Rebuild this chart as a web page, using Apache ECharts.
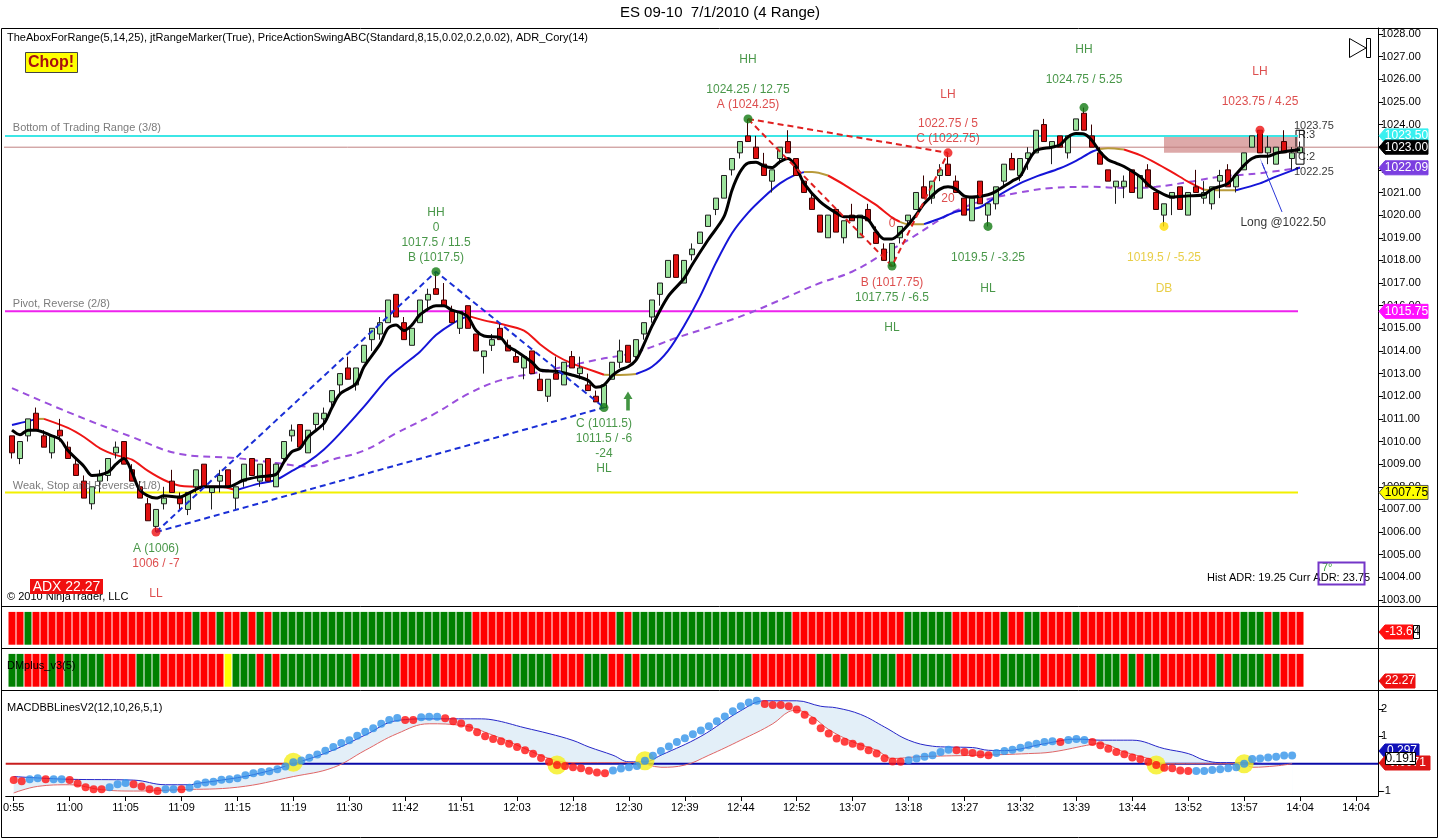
<!DOCTYPE html>
<html><head><meta charset="utf-8">
<script src="https://cdn.jsdelivr.net/npm/echarts@6/dist/echarts.min.js"></script>
<style>html,body{margin:0;padding:0;background:#fff}#c{width:1440px;height:840px}</style>
</head><body><div id="c"></div>
<script>
const FONT = '"Liberation Sans", Arial, sans-serif';

// ---------- DATA ----------
const timeLabels = ['0:55','11:00','11:05','11:09','11:15','11:19','11:30','11:42','11:51','12:03','12:18','12:30','12:39','12:44','12:52','13:07','13:18','13:27','13:32','13:39','13:44','13:52','13:57','14:04','14:04'];
const priceTicks = [1003,1004,1005,1006,1007,1008,1009,1010,1011,1012,1013,1014,1015,1016,1017,1018,1019,1020,1021,1022,1023,1024,1025,1026,1027,1028];
const macdTicks = [-1,1,2];

// candles: [open, close, low, high], one per range bar
const candles = [
[1010.25,1009.5,1009.25,1010.25],[1009.25,1010.0,1009.0,1010.0],[1010.25,1011.0,1010.0,1011.0],[1011.25,1010.5,1010.5,1011.5],
[1010.25,1009.75,1009.75,1010.5],[1009.5,1010.25,1009.25,1010.25],[1010.5,1010.25,1010.0,1011.0],[1009.75,1009.25,1009.25,1010.0],
[1009.0,1008.5,1008.5,1009.25],[1008.25,1007.5,1007.5,1008.5],[1007.25,1008.0,1007.0,1008.0],[1008.25,1008.5,1007.75,1008.75],
[1008.5,1009.25,1008.25,1009.25],[1009.5,1009.75,1009.25,1010.0],[1010.0,1009.0,1009.0,1010.0],[1008.75,1008.25,1008.25,1009.0],
[1008.0,1007.5,1007.5,1008.25],[1007.25,1006.5,1006.5,1007.5],[1006.25,1007.0,1006.0,1007.0],[1007.25,1007.5,1007.0,1008.0],
[1008.25,1007.75,1007.75,1008.75],[1007.5,1007.25,1007.0,1007.75],[1007.0,1007.75,1006.75,1007.75],[1008.0,1008.75,1007.75,1008.75],
[1009.0,1008.0,1008.0,1009.0],[1007.75,1008.0,1007.0,1008.0],[1008.25,1008.5,1007.75,1008.75],[1008.75,1008.0,1008.0,1008.75],
[1007.5,1008.0,1007.0,1008.0],[1008.25,1009.0,1008.0,1009.0],[1009.25,1008.5,1008.5,1009.25],[1008.25,1009.0,1008.0,1009.0],
[1009.25,1008.25,1008.25,1009.25],[1008.0,1009.0,1008.0,1009.0],[1009.25,1010.0,1009.0,1010.0],[1010.25,1010.5,1010.0,1010.75],
[1010.75,1009.75,1009.75,1010.75],[1009.5,1010.5,1009.5,1010.5],[1010.75,1011.25,1010.5,1011.25],[1011.0,1011.25,1010.5,1011.5],
[1011.75,1012.25,1011.5,1012.25],[1012.5,1013.0,1012.0,1013.0],[1013.25,1012.75,1012.75,1013.75],[1012.5,1013.25,1012.25,1013.25],
[1013.5,1014.25,1013.5,1014.25],[1014.5,1015.0,1014.0,1015.0],[1014.75,1015.25,1014.5,1015.5],[1015.25,1016.25,1015.25,1016.25],
[1016.5,1015.5,1015.5,1016.5],[1015.25,1014.5,1014.5,1015.5],[1014.25,1015.0,1014.25,1015.0],[1015.25,1016.25,1015.25,1016.25],
[1016.25,1016.5,1015.75,1016.75],[1016.75,1016.5,1016.5,1017.5],[1016.25,1016.0,1016.0,1017.0],[1015.75,1015.25,1015.25,1016.0],
[1015.0,1015.75,1014.75,1015.75],[1016.0,1015.0,1015.0,1016.0],[1014.75,1014.0,1014.0,1014.75],[1013.75,1014.0,1013.0,1014.0],
[1014.25,1014.5,1014.0,1014.75],[1015.0,1014.5,1014.5,1015.25],[1014.25,1014.0,1014.0,1014.5],[1013.75,1013.5,1013.5,1014.0],
[1013.25,1013.75,1012.75,1013.75],[1014.0,1013.0,1013.0,1014.0],[1012.75,1012.25,1012.25,1013.0],[1012.0,1012.75,1011.75,1012.75],
[1013.0,1012.75,1012.75,1013.75],[1012.5,1013.5,1012.5,1013.5],[1013.75,1013.25,1013.25,1014.0],[1013.0,1013.25,1012.75,1013.75],
[1012.5,1012.25,1012.25,1013.0],[1012.0,1011.75,1011.75,1012.25],[1011.5,1012.5,1011.5,1012.5],[1012.75,1013.5,1012.75,1013.5],
[1013.5,1014.0,1013.25,1014.5],[1014.25,1013.5,1013.5,1014.25],[1013.75,1014.5,1013.5,1014.5],[1014.75,1015.25,1014.5,1015.25],
[1015.5,1016.25,1015.25,1016.25],[1016.5,1017.0,1016.0,1017.0],[1017.25,1018.0,1017.25,1018.0],[1018.25,1017.25,1017.25,1018.25],
[1017.0,1018.0,1017.0,1018.0],[1018.25,1018.5,1018.0,1018.75],[1018.75,1019.25,1018.75,1019.25],[1019.5,1020.0,1019.5,1020.0],
[1020.25,1020.75,1020.0,1020.75],[1020.75,1021.75,1020.75,1021.75],[1022.0,1022.5,1021.75,1022.5],[1022.75,1023.25,1022.5,1023.25],
[1023.5,1023.25,1023.25,1024.25],[1023.0,1022.5,1022.5,1023.5],[1022.25,1021.75,1021.75,1022.75],[1021.5,1022.0,1021.0,1022.0],
[1022.5,1023.0,1022.25,1023.0],[1023.25,1022.75,1022.75,1023.75],[1022.5,1021.75,1021.75,1022.5],[1021.5,1021.0,1021.0,1021.5],
[1020.75,1020.25,1020.25,1021.0],[1020.0,1019.25,1019.25,1020.0],[1019.0,1020.0,1019.0,1020.0],[1020.25,1019.25,1019.25,1020.25],
[1019.0,1019.75,1018.75,1019.75],[1020.0,1019.75,1019.75,1020.5],[1019.0,1020.0,1019.0,1020.0],[1020.25,1019.75,1019.75,1020.5],
[1019.25,1018.75,1018.75,1019.5],[1018.5,1018.0,1018.0,1018.75],[1017.75,1018.75,1017.75,1018.75],[1019.0,1019.5,1018.75,1019.5],
[1019.75,1020.0,1019.5,1020.0],[1020.25,1021.0,1020.25,1021.0],[1021.25,1020.75,1020.75,1021.75],[1020.75,1021.5,1020.5,1021.5],
[1021.75,1022.0,1021.5,1022.25],[1022.25,1021.75,1021.75,1022.75],[1021.5,1021.0,1021.0,1021.75],[1020.75,1020.0,1020.0,1020.75],
[1019.75,1020.75,1019.75,1020.75],[1021.5,1020.5,1020.5,1021.5],[1020.0,1020.5,1019.5,1020.5],[1020.5,1021.25,1020.25,1021.25],
[1021.5,1022.25,1021.25,1022.25],[1022.5,1022.0,1022.0,1022.75],[1021.75,1022.5,1021.5,1022.5],[1022.5,1022.75,1022.0,1023.0],
[1022.75,1023.75,1022.75,1023.75],[1024.0,1023.25,1023.25,1024.25],[1023.0,1023.25,1022.25,1023.25],[1023.5,1023.0,1023.0,1023.5],
[1022.75,1023.5,1022.5,1023.5],[1023.75,1024.25,1023.75,1024.25],[1024.5,1023.75,1023.75,1024.75],[1023.5,1023.0,1023.0,1024.0],
[1022.75,1022.25,1022.25,1023.0],[1022.0,1021.5,1021.5,1022.0],[1021.25,1021.5,1020.5,1021.5],[1021.25,1021.5,1020.75,1021.75],
[1022.0,1021.0,1021.0,1022.0],[1020.75,1021.75,1020.75,1021.75],[1022.0,1021.25,1021.25,1022.25],[1021.0,1020.25,1020.25,1021.0],
[1020.0,1020.5,1019.5,1020.5],[1020.75,1021.0,1020.0,1021.0],[1021.25,1020.25,1020.25,1021.25],[1020.0,1021.0,1020.0,1021.0],
[1021.25,1021.0,1021.0,1022.0],[1020.75,1021.0,1020.5,1021.5],[1020.5,1021.25,1020.25,1021.25],[1021.5,1021.75,1020.75,1022.0],
[1022.0,1021.25,1021.25,1022.25],[1021.25,1021.75,1021.0,1021.75],[1022.0,1022.75,1022.0,1022.75],[1023.0,1023.5,1023.0,1023.5],
[1023.75,1022.75,1022.75,1023.75],[1022.75,1023.0,1022.25,1023.5],[1022.25,1023.0,1022.25,1023.0],[1023.25,1022.75,1022.75,1023.75],
[1022.5,1022.75,1022.0,1023.0],[1022.75,1023.0,1022.75,1023.25]
];

// moving averages: [bar, value]
const fastMA = [[0,1010.5],[1,1010.3],[2,1010.5],[3,1010.5],[5,1010.25],[6,1010.1],[7,1009.6],[9,1008.9],[10,1008.5],[12,1008.65],[13,1009.0],[14,1009.25],[15,1008.65],[16,1007.85],[18,1007.5],[19,1007.6],[21,1007.55],[22,1007.7],[24,1008.0],[27,1008.0],[29,1008.3],[31,1008.45],[33,1008.55],[34,1009.1],[35,1009.55],[36,1009.7],[37,1010.2],[39,1010.8],[40,1011.5],[41,1012.1],[43,1012.55],[44,1013.3],[46,1014.3],[47,1015.0],[48,1015.15],[49,1014.9],[50,1015.15],[51,1015.6],[53,1016.0],[54,1016.0],[55,1015.8],[56,1015.7],[57,1015.5],[58,1014.9],[59,1014.66],[61,1014.6],[62,1014.2],[63,1014.0],[65,1013.5],[66,1013.16],[68,1013.1],[70,1012.94],[72,1012.7],[73,1012.4],[74,1012.5],[75,1012.9],[76,1013.16],[77,1013.3],[78,1013.6],[79,1014.3],[80,1015.1],[82,1016.4],[84,1017.2],[85,1017.8],[87,1018.9],[89,1019.93],[90,1021.1],[91,1021.9],[92,1022.3],[93,1022.33],[94,1022.17],[95,1022.1],[96,1022.36],[97,1022.5],[98,1022.14],[99,1021.4],[101,1020.6],[103,1020.1],[104,1019.93],[106,1019.93],[107,1019.8],[108,1019.3],[109,1018.95],[110,1018.95],[111,1019.2],[112,1019.56],[113,1020.0],[114,1020.5],[115,1020.85],[116,1021.15],[117,1021.25],[118,1021.15],[119,1020.85],[120,1020.8],[122,1020.9],[123,1021.05],[125,1021.5],[126,1021.7],[127,1022.35],[128,1022.85],[130,1023.0],[131,1023.1],[132,1023.45],[133,1023.6],[134,1023.58],[135,1023.3],[136,1022.8],[137,1022.45],[138,1022.3],[139,1022.15],[141,1021.7],[142,1021.35],[143,1021.1],[145,1020.8],[147,1020.85],[149,1020.9],[150,1021.15],[152,1021.4],[153,1021.8],[154,1022.2],[155,1022.5],[156,1022.6],[157,1022.6],[158,1022.73],[159,1022.8],[161,1022.9]];
const trendMA = [[0,1010.73],[2,1010.9],[3,1011.0],[4,1011.0],[7,1010.6],[9,1010.2],[11,1009.7],[13,1009.4],[15,1009.2],[17,1008.7],[19,1008.3],[21,1008.05],[24,1008.0],[26,1008.0],[28,1007.85],[31,1008.15],[33,1008.3],[35,1008.7],[37,1009.1],[39,1009.65],[41,1010.36],[44,1011.54],[47,1012.8],[49,1013.4],[51,1013.97],[53,1014.7],[55,1015.2],[57,1015.55],[59,1015.35],[61,1015.2],[64,1014.9],[66,1014.3],[68,1013.8],[70,1013.45],[72,1013.2],[74,1012.95],[76,1012.94],[78,1012.98],[80,1013.3],[82,1014.0],[84,1015.1],[86,1016.4],[88,1017.9],[90,1019.2],[92,1020.1],[94,1020.8],[96,1021.4],[98,1021.8],[99,1021.9],[100,1021.9],[102,1021.75],[104,1021.35],[106,1020.9],[108,1020.45],[110,1019.9],[111,1019.7],[112,1019.6],[114,1019.6],[116,1019.85],[118,1020.15],[121,1020.35],[123,1020.8],[126,1021.4],[128,1021.7],[131,1022.07],[133,1022.4],[135,1022.8],[136,1022.92],[137,1022.95],[139,1022.9],[141,1022.65],[143,1022.3],[145,1021.9],[147,1021.48],[149,1021.12],[151,1021.1],[153,1021.1],[156,1021.4],[158,1021.7],[161,1022.1]];
// regimes of the trend line: [fromBar, toBar, state]
const trendRegimes = [[0,3,'up'],[3,4,'flat'],[4,28,'down'],[28,57,'up'],[57,74,'down'],[74,78,'flat'],[78,99,'up'],[99,102,'flat'],[102,111,'down'],[111,114,'flat'],[114,136,'up'],[136,139,'flat'],[139,149,'down'],[149,153,'flat'],[153,161,'up']];
const slowMA = [[0,1012.36],[7,1011.3],[15,1010.2],[21,1009.45],[28,1009.27],[33,1009.05],[37,1008.9],[40,1009.2],[44,1009.6],[48,1010.36],[53,1011.26],[57,1012.1],[61,1012.7],[65,1013.0],[69,1013.3],[73,1013.6],[78,1013.95],[83,1014.57],[88,1015.15],[92,1015.65],[97,1016.4],[101,1017.0],[105,1017.5],[109,1018.3],[112,1018.9],[116,1019.8],[118,1020.2],[122,1020.7],[126,1021.0],[130,1021.2],[135,1021.25],[139,1021.2],[143,1021.25],[147,1021.46],[151,1021.7],[156,1021.85],[161,1022.1]];

// key levels
const tradingRangeBottom = 1023.5, pivotLevel = 1015.75, weakLevel = 1007.75, lastPrice = 1023.0;
const tradeZone = {from:144, to:160.75, top:1023.5, bottom:1022.75};
const rangeMarker = {from:160.5, to:161.5, top:1023.75, bottom:1022.25};

// swings
const swingUp = [[18,1006],[53,1017.5],[74,1011.5]];
const swingDown = [[92,1024.25],[110,1017.75],[117,1022.75]];
const swingDots = [[18,1006,'R'],[53,1017.5,'G'],[74,1011.5,'G'],[92,1024.25,'G'],[110,1017.75,'G'],[117,1022.75,'R'],[122,1019.5,'G'],[134,1024.75,'G'],[144,1019.5,'Y'],[156,1023.75,'R']];
const annotations = [
 [53,1020.09,'HH','G'],[53,1019.43,'0','G'],[53,1018.77,'1017.5 / 11.5','G'],[53,1018.11,'B (1017.5)','G'],
 [18,1005.25,'A (1006)','G'],[18,1004.59,'1006 / -7','R'],[18,1003.27,'LL','R'],
 [74,1010.77,'C (1011.5)','G'],[74,1010.11,'1011.5 / -6','G'],[74,1009.45,'-24','G'],[74,1008.79,'HL','G'],
 [92,1026.85,'HH','G'],[92,1025.53,'1024.25 / 12.75','G'],[92,1024.86,'A (1024.25)','R'],
 [117,1025.31,'LH','R'],[117,1024.02,'1022.75 / 5','R'],[117,1023.36,'C (1022.75)','R'],[117,1020.71,'20','R'],
 [110,1019.61,'0','R'],[110,1017.0,'B (1017.75)','R'],[110,1016.34,'1017.75 / -6.5','G'],[110,1015.01,'HL','G'],
 [122,1018.11,'1019.5 / -3.25','G'],[122,1016.74,'HL','G'],
 [134,1027.29,'HH','G'],[134,1025.97,'1024.75 / 5.25','G'],
 [144,1018.11,'1019.5 / -5.25','Y'],[144,1016.74,'DB','Y'],
 [156,1026.32,'LH','R'],[156,1025.0,'1023.75 / 4.25','R'],
 [158.9,1019.65,'Long @1022.50','K']
];
const levelLabels = [[0.1,1023.85,'Bottom of Trading Range (3/8)'],[0.1,1016.07,'Pivot, Reverse (2/8)'],[0.1,1008.04,'Weak, Stop and Reverse (1/8)']];
const markerLabels = [[160.25,1023.94,'1023.75'],[160.75,1023.54,'R:3'],[160.75,1022.57,'C:2'],[160.25,1021.9,'1022.25']];
const longArrow = [[158.75,1020.14],[156.25,1022.3]];
const entryArrowUp = [77,1011.79];
const entryArrowDown = [121,1021.0];

// colour bars: runs of [count, state]
const trendBarRuns = [[2,'R'],[1,'G'],[20,'R'],[1,'G'],[2,'R'],[1,'G'],[2,'R'],[1,'G'],[1,'R'],[1,'G'],[1,'R'],[25,'G'],[18,'R'],[1,'G'],[1,'R'],[20,'G'],[14,'R'],[6,'G'],[6,'R'],[1,'G'],[2,'R'],[2,'G'],[4,'R'],[1,'G'],[20,'R'],[3,'G'],[1,'R'],[1,'G'],[3,'R']];
const dmBarRuns = [[2,'G'],[3,'R'],[1,'G'],[1,'R'],[5,'G'],[4,'R'],[3,'G'],[8,'R'],[1,'Y'],[3,'G'],[1,'R'],[1,'G'],[1,'R'],[9,'G'],[1,'R'],[5,'G'],[4,'R'],[1,'G'],[4,'R'],[2,'G'],[3,'R'],[5,'G'],[4,'R'],[3,'G'],[2,'R'],[1,'G'],[1,'R'],[14,'G'],[8,'R'],[2,'G'],[1,'R'],[1,'G'],[3,'R'],[3,'G'],[2,'R'],[5,'G'],[6,'R'],[5,'G'],[4,'R'],[1,'G'],[2,'R'],[3,'G'],[1,'R'],[1,'G'],[1,'R'],[2,'G'],[7,'R'],[1,'G'],[1,'R'],[4,'G'],[1,'R'],[1,'G'],[3,'R']];

// MACD
const macdValues = [
 -0.60,-0.64,-0.57,-0.53,-0.57,-0.57,-0.57,-0.60,-0.72,-0.86,
 -0.93,-0.93,-0.86,-0.75,-0.71,-0.75,-0.83,-0.93,-1.00,-0.93,
 -0.93,-0.93,-0.88,-0.75,-0.69,-0.66,-0.59,-0.57,-0.53,-0.42,
 -0.35,-0.30,-0.28,-0.20,-0.10,0.05,0.12,0.22,0.34,0.47,
 0.61,0.76,0.86,1.02,1.17,1.30,1.46,1.60,1.67,1.60,
 1.60,1.70,1.72,1.72,1.66,1.55,1.47,1.31,1.15,1.00,
 0.90,0.82,0.73,0.61,0.49,0.36,0.21,0.07,-0.05,-0.08,
 -0.13,-0.17,-0.26,-0.32,-0.35,-0.25,-0.18,-0.13,-0.08,0.11,
 0.29,0.46,0.63,0.79,0.93,1.08,1.21,1.37,1.55,1.73,
 1.92,2.10,2.24,2.30,2.18,2.15,2.15,2.10,1.98,1.79,
 1.57,1.30,1.10,0.92,0.80,0.73,0.63,0.49,0.37,0.20,
 0.08,0.07,0.13,0.19,0.25,0.31,0.43,0.51,0.49,0.43,
 0.39,0.35,0.31,0.39,0.46,0.51,0.58,0.67,0.73,0.79,
 0.82,0.79,0.87,0.90,0.87,0.79,0.67,0.55,0.43,0.35,
 0.23,0.16,0.07,-0.05,-0.15,-0.17,-0.25,-0.27,-0.27,-0.27,
 -0.23,-0.20,-0.17,-0.13,0.00,0.17,0.19,0.23,0.25,0.30,
 0.30];
const macdColorRuns = [[2,'R'],[2,'B'],[1,'R'],[2,'B'],[5,'R'],[3,'B'],[4,'R'],[2,'B'],[1,'R'],[27,'B'],[2,'R'],[3,'B'],[21,'R'],[19,'B'],[18,'R'],[6,'B'],[5,'R'],[8,'B'],[1,'R'],[3,'B'],[13,'R'],[13,'B']];
const macdUpper = [[0,-0.47],[3,-0.52],[7,-0.57],[15,-0.6],[19,-0.77],[22,-0.77],[23,-0.72],[26,-0.6],[30,-0.4],[35,0.0],[40,0.5],[44,1.05],[48,1.58],[52,1.64],[58,1.64],[60,1.6],[64,1.31],[67,1.1],[70,0.85],[72,0.61],[75,0.31],[77,0.07],[79,0.07],[81,0.31],[86,1.0],[91,1.94],[94,2.3],[98,2.3],[101,2.1],[103,2.04],[106,1.8],[109,1.34],[112,0.86],[115,0.64],[117,0.61],[120,0.59],[122,0.49],[124,0.48],[129,0.73],[133,0.9],[136,0.86],[140,0.86],[144,0.55],[147,0.37],[149,0.13],[151,0.04],[154,0.04],[157,0.0],[160,0.0]];
const macdLower = [[0,-1.07],[3,-0.83],[7,-0.77],[11,-0.95],[15,-1.0],[21,-0.95],[28,-0.86],[35,-0.47],[40,-0.14],[44,0.49],[48,1.1],[52,1.46],[56,1.4],[60,1.04],[64,0.55],[67,0.19],[70,0.04],[78,0.04],[81,-0.13],[84,-0.05],[87,0.31],[91,0.86],[95,1.46],[97,1.9],[98,1.95],[100,1.7],[102,1.25],[105,0.8],[108,0.49],[110,0.19],[113,0.25],[116,0.28],[121,0.31],[127,0.37],[130,0.43],[135,0.71],[136,0.73],[139,0.43],[142,0.19],[144,0.0],[154,0.0],[155,-0.13],[158,-0.08],[160,0.0]];
const macdCrosses = [[35,0.05],[68,-0.05],[79,0.11],[143,-0.05],[154,0.0]];
const macdZeroSwitch = 35;

// ---------- CHART ----------
const COL = {G:'#1c7d1c', R:'#d42222', Y:'#e2c21a', K:'#000'};
const DOT = {G:'#137a13', R:'#ee1111', Y:'#ffdd00'};
const BAR = {G:'#008000', R:'#ff0000', Y:'#ffff00'};
const TREND = {up:'#1515d8', down:'#ee1515', flat:'#b89a3a'};
function expandRuns(runs){const o=[];runs.forEach(([n,c])=>{for(let k=0;k<n;k++)o.push(c);});return o;}

const XMIN=-1, XMAX=170.75;
const timeTickValues = timeLabels.map((_,k)=>k*7);
const chart = echarts.init(document.getElementById('c'));

function hx(gi){return {gridIndex:gi,type:'value',min:XMIN,max:XMAX,show:false};}
const series = [];

// zone + markers
series.push({type:'line',xAxisIndex:0,yAxisIndex:0,data:[[161,1023]],symbol:'none',lineStyle:{opacity:0},silent:true,z:1,
  markArea:{silent:true,itemStyle:{color:'rgba(198,112,112,0.6)'},data:[[{coord:[tradeZone.from,tradeZone.top]},{coord:[tradeZone.to,tradeZone.bottom]}]]}});
// level lines
function hline(v,from,to,color,width,z){series.push({type:'line',xAxisIndex:0,yAxisIndex:0,data:[[from,v],[to,v]],symbol:'none',silent:true,lineStyle:{color,width},z});}
hline(tradingRangeBottom,-0.875,160.75,'#3ce6e6',2,2);
hline(pivotLevel,-0.875,160.75,'#ee22ee',2,2);
hline(weakLevel,-0.875,160.75,'#f2f000',2,2);
hline(lastPrice,XMIN,XMAX,'#c08282',1,2);

// slow MA
series.push({type:'line',xAxisIndex:0,yAxisIndex:0,data:slowMA,smooth:0.4,symbol:'none',silent:true,lineStyle:{color:'#9a4fdc',width:2,type:[7,5]},z:3});
// trend MA segments
trendRegimes.forEach(([a,b,s])=>{
  series.push({type:'line',xAxisIndex:0,yAxisIndex:0,data:trendMA.filter(p=>p[0]>=a&&p[0]<=b),smooth:0.3,symbol:'none',silent:true,lineStyle:{color:TREND[s],width:2},z:3});
});
// candles
series.push({type:'candlestick',xAxisIndex:0,yAxisIndex:0,barWidth:5,encode:{x:0,y:[1,2,3,4]},
  data:candles.map((c,i)=>[i,c[0],c[1],c[2],c[3]]),
  itemStyle:{color:'#9ce39c',color0:'#e01010',borderColor:'#1f1f1f',borderColor0:'#3a0000',borderWidth:1},z:4});
// fast MA
series.push({type:'line',xAxisIndex:0,yAxisIndex:0,data:fastMA,smooth:0.3,symbol:'none',silent:true,lineStyle:{color:'#000',width:3},z:5});
// range marker box
series.push({type:'line',xAxisIndex:0,yAxisIndex:0,data:[[161,1023]],symbol:'none',lineStyle:{opacity:0},silent:true,z:6,
  markArea:{silent:true,itemStyle:{color:'rgba(255,255,255,0)',borderColor:'#000',borderWidth:1},data:[[{coord:[rangeMarker.from,rangeMarker.top]},{coord:[rangeMarker.to,rangeMarker.bottom]}]]}});
// swing lines
function dashed(data,color){series.push({type:'line',xAxisIndex:0,yAxisIndex:0,data,symbol:'none',silent:true,lineStyle:{color,width:2,type:[6,4]},z:6});}
dashed(swingUp,'#1a2fd6'); dashed([swingUp[0],swingUp[2]],'#1a2fd6');
dashed(swingDown,'#e02020'); dashed([swingDown[0],swingDown[2]],'#e02020');
// long arrow
series.push({type:'line',xAxisIndex:0,yAxisIndex:0,data:[[161,1023]],symbol:'none',lineStyle:{opacity:0},silent:true,z:7,
  markLine:{silent:true,symbol:['none','triangle'],symbolSize:[1,13],label:{show:false},lineStyle:{color:'#2a36d8',width:1,type:'solid'},
  data:[[{coord:longArrow[0]},{coord:longArrow[1]}]]}});
// swing dots
series.push({type:'scatter',xAxisIndex:0,yAxisIndex:0,symbolSize:9,silent:true,z:8,
  data:swingDots.map(d=>({value:[d[0],d[1]],itemStyle:{color:DOT[d[2]]}}))});
// entry arrows
series.push({type:'scatter',xAxisIndex:0,yAxisIndex:0,silent:true,z:8,symbol:'path://M5,0L10,7L7,7L7,18L3,18L3,7L0,7Z',symbolSize:[9,19],itemStyle:{color:'#137a13'},data:[entryArrowUp]});
series.push({type:'scatter',xAxisIndex:0,yAxisIndex:0,silent:true,z:8,symbol:'path://M3,0L7,0L7,8L10,8L5,14L0,8L3,8Z',symbolSize:[6,11],itemStyle:{color:'#ee1111'},data:[entryArrowDown]});
// text annotations
function labelSeries(items,fontSize,align,colorFn){
  series.push({type:'scatter',xAxisIndex:0,yAxisIndex:0,symbolSize:0.1,silent:true,z:9,itemStyle:{color:'rgba(0,0,0,0)'},
    label:{show:true,position:'inside',fontFamily:FONT,fontSize,align,verticalAlign:'middle',formatter:'{b}'},
    data:items.map(a=>({name:a[2],value:[a[0],a[1]],label:{color:colorFn(a)}}))});
}
labelSeries(annotations,12,'center',a=>COL[a[3]]);
labelSeries(levelLabels,11,'left',()=>'#5a5a5a');
labelSeries(markerLabels,11,'left',()=>'#000');

// colour bar panels
const trendBars = expandRuns(trendBarRuns), dmBars = expandRuns(dmBarRuns);
series.push({type:'bar',xAxisIndex:1,yAxisIndex:1,barWidth:7,silent:true,data:trendBars.map((c,i)=>({value:[i,1],itemStyle:{color:BAR[c]}}))});
series.push({type:'bar',xAxisIndex:2,yAxisIndex:2,barWidth:7,silent:true,data:dmBars.map((c,i)=>({value:[i,1],itemStyle:{color:BAR[c]}}))});

// MACD panel
series.push({type:'line',xAxisIndex:3,yAxisIndex:3,data:macdUpper,smooth:0.4,symbol:'none',silent:true,lineStyle:{opacity:0},areaStyle:{color:'#e3eff8',origin:'start',opacity:1},z:1});
series.push({type:'line',xAxisIndex:3,yAxisIndex:3,data:macdLower,smooth:0.4,symbol:'none',silent:true,lineStyle:{opacity:0},areaStyle:{color:'#ffffff',origin:'start',opacity:1},z:2});
series.push({type:'line',xAxisIndex:3,yAxisIndex:3,data:[[XMIN,0],[macdZeroSwitch,0]],symbol:'none',silent:true,lineStyle:{color:'#c81e1e',width:2},z:3});
series.push({type:'line',xAxisIndex:3,yAxisIndex:3,data:[[macdZeroSwitch,0],[XMAX,0]],symbol:'none',silent:true,lineStyle:{color:'#0a0aa8',width:2},z:3});
series.push({type:'line',xAxisIndex:3,yAxisIndex:3,data:macdUpper,smooth:0.4,symbol:'none',silent:true,lineStyle:{color:'#2626c8',width:1},z:4});
series.push({type:'line',xAxisIndex:3,yAxisIndex:3,data:macdLower,smooth:0.4,symbol:'none',silent:true,lineStyle:{color:'#e06666',width:1},z:4});
series.push({type:'scatter',xAxisIndex:3,yAxisIndex:3,symbolSize:19,silent:true,itemStyle:{color:'#f5ef1c'},data:macdCrosses,z:5});
const macdCols = expandRuns(macdColorRuns);
series.push({type:'scatter',xAxisIndex:3,yAxisIndex:3,symbolSize:8,silent:true,z:6,
  data:macdValues.map((v,i)=>({value:[i,v],itemStyle:{color:macdCols[i]==='R'?'#ff1010':'#3393ea'}}))});

const option = {
  animation:false, backgroundColor:'#fff', textStyle:{fontFamily:FONT},
  grid:[{left:4,top:28,width:1374,height:578},{left:4,top:606,width:1374,height:42},{left:4,top:648,width:1374,height:42},{left:4,top:691,width:1374,height:105}],
  xAxis:[hx(0),hx(1),hx(2),{gridIndex:3,type:'value',min:XMIN,max:XMAX,z:10,
    axisLine:{show:true,onZero:false,lineStyle:{color:'#000',width:1}},
    axisTick:{show:true,customValues:timeTickValues,length:5,lineStyle:{color:'#000'}},
    axisLabel:{customValues:timeTickValues,formatter:v=>timeLabels[Math.round(v/7)],color:'#000',fontSize:11,margin:6,fontFamily:FONT},
    splitLine:{show:false}}],
  yAxis:[
    {gridIndex:0,type:'value',position:'right',min:1002.735,max:1028.265,
     axisLine:{show:true,onZero:false,lineStyle:{color:'#000'}},
     axisTick:{show:true,customValues:priceTicks,length:5,lineStyle:{color:'#000'}},
     axisLabel:{customValues:priceTicks,formatter:v=>v.toFixed(2),color:'#000',fontSize:11,margin:3,fontFamily:FONT},
     splitLine:{show:false}},
    {gridIndex:1,type:'value',min:-0.1,max:1.18,show:false},
    {gridIndex:2,type:'value',min:-0.1,max:1.18,show:false},
    {gridIndex:3,type:'value',position:'right',min:-1.181,max:2.658,z:10,
     axisLine:{show:true,onZero:false,lineStyle:{color:'#000'}},
     axisTick:{show:true,customValues:macdTicks,length:5,lineStyle:{color:'#000'}},
     axisLabel:{customValues:macdTicks,formatter:v=>String(v),color:'#000',fontSize:11,margin:3,fontFamily:FONT},
     splitLine:{show:false}}
  ],
  series
};
chart.setOption(option);

// ---------- decorations ----------
function txt(x,y,text,opts){opts=opts||{};return {type:'text',x,y,z:opts.z||150,silent:true,style:{text,fill:opts.fill||'#000',font:(opts.bold?'bold ':'')+(opts.size||11)+'px '+FONT,align:opts.align||'left',textAlign:opts.align||'left',verticalAlign:'middle',textVerticalAlign:'middle'}};}
function ln(x1,y1,x2,y2,c,w){return {type:'line',silent:true,z:140,shape:{x1,y1,x2,y2},style:{stroke:c||'#000',lineWidth:w||1}};}
function tag(y,text,bg,fg,w,z){const x0=1379,h=14,x1=x0+w;return [
  {type:'polygon',silent:true,z:z||200,shape:{points:[[x0,y],[x0+6,y-h/2],[x1,y-h/2],[x1,y+h/2],[x0+6,y+h/2]]},style:{fill:bg,stroke:bg==='#ffff00'?'#555':bg,lineWidth:1}},
  {type:'text',silent:true,z:(z||200)+1,x:(x0+6+x1)/2,y:y,style:{text,fill:fg,font:'12px '+FONT,align:'center',textAlign:'center',verticalAlign:'middle',textVerticalAlign:'middle'}}];}
const py = v=>chart.convertToPixel({yAxisIndex:0},v);

let g = [
  {type:'rect',silent:true,z:140,shape:{x:1.5,y:28.5,width:1436,height:809},style:{fill:'none',stroke:'#000',lineWidth:1}},
  ln(1,606.5,1438,606.5), ln(1,648.5,1438,648.5), ln(1,690.5,1438,690.5), ln(1378.5,606,1378.5,691),
  txt(720,13,'ES 09-10  7/1/2010 (4 Range)',{size:15,align:'center'}),
  txt(7,38,'TheAboxForRange(5,14,25), jtRangeMarker(True), PriceActionSwingABC(Standard,8,15,0.02,0.2,0.02), ADR_Cory(14)',{size:11}),
  {type:'rect',silent:true,z:150,shape:{x:25.5,y:52.5,width:52,height:20},style:{fill:'#ffff00',stroke:'#444',lineWidth:1}},
  txt(51,62.5,'Chop!',{size:16,bold:true,align:'center',fill:'#a81010',z:151}),
  txt(7,597,'\u00a9 2010 NinjaTrader, LLC',{size:11}),
  {type:'rect',silent:true,z:152,shape:{x:30,y:579,width:73,height:15},style:{fill:'#f01010'}},
  txt(66.5,587,'ADX 22.27',{size:14,align:'center',fill:'#fff',z:153}),
  txt(1207,578,'Hist ADR: 19.25 Curr ADR: 23.75',{size:11}),
  {type:'rect',silent:true,z:151,shape:{x:1318.5,y:562.5,width:46,height:22},style:{fill:'none',stroke:'#7436c8',lineWidth:2}},
  txt(1322,568,'7\u00b0',{size:11,fill:'#3aa83a'}),
  {type:'polygon',silent:true,z:150,shape:{points:[[1349.5,38.5],[1349.5,57.5],[1366,48]]},style:{fill:'none',stroke:'#000',lineWidth:1}},
  {type:'rect',silent:true,z:150,shape:{x:1366.5,y:38.5,width:4,height:19},style:{fill:'none',stroke:'#000',lineWidth:1}},
  txt(7,666,'DMplus_v3(5)',{size:11}),
  txt(7,708,'MACDBBLinesV2(12,10,26,5,1)',{size:11})
];
g = g.concat(tag(py(tradingRangeBottom),'1023.50','#38f0f0','#fff',49,200));
g = g.concat(tag(py(lastPrice),'1023.00','#000','#fff',49,204));
g = g.concat(tag(py(1022.09),'1022.09','#7b3fe0','#fff',49,202));
g = g.concat(tag(py(pivotLevel),'1015.75','#ff10ff','#fff',49,200));
g = g.concat(tag(py(weakLevel),'1007.75','#ffff00','#000',49,200));
g = g.concat(tag(632,'-13.6','#ff1010','#fff',34,200));
g.push({type:'rect',silent:true,z:205,shape:{x:1413.5,y:625.5,width:6,height:13},style:{fill:'#fff',stroke:'#000',lineWidth:1}});
g.push(txt(1416.5,632,'4',{size:12,align:'center',z:206}));
g = g.concat(tag(681,'22.27','#ee1010','#fff',36,200));
g = g.concat(tag(751,'0.297','#1010b8','#fff',40,200));
g = g.concat(tag(763,'0.0071','#dd1515','#fff',51,202));
g.push({type:'rect',silent:true,z:206,shape:{x:1385.5,y:752.5,width:30,height:12},style:{fill:'#fff',stroke:'#000',lineWidth:1}});
g.push(txt(1400.5,758.5,'0.191',{size:12,align:'center',z:207}));

chart.setOption({graphic:g});
</script>
</body></html>
